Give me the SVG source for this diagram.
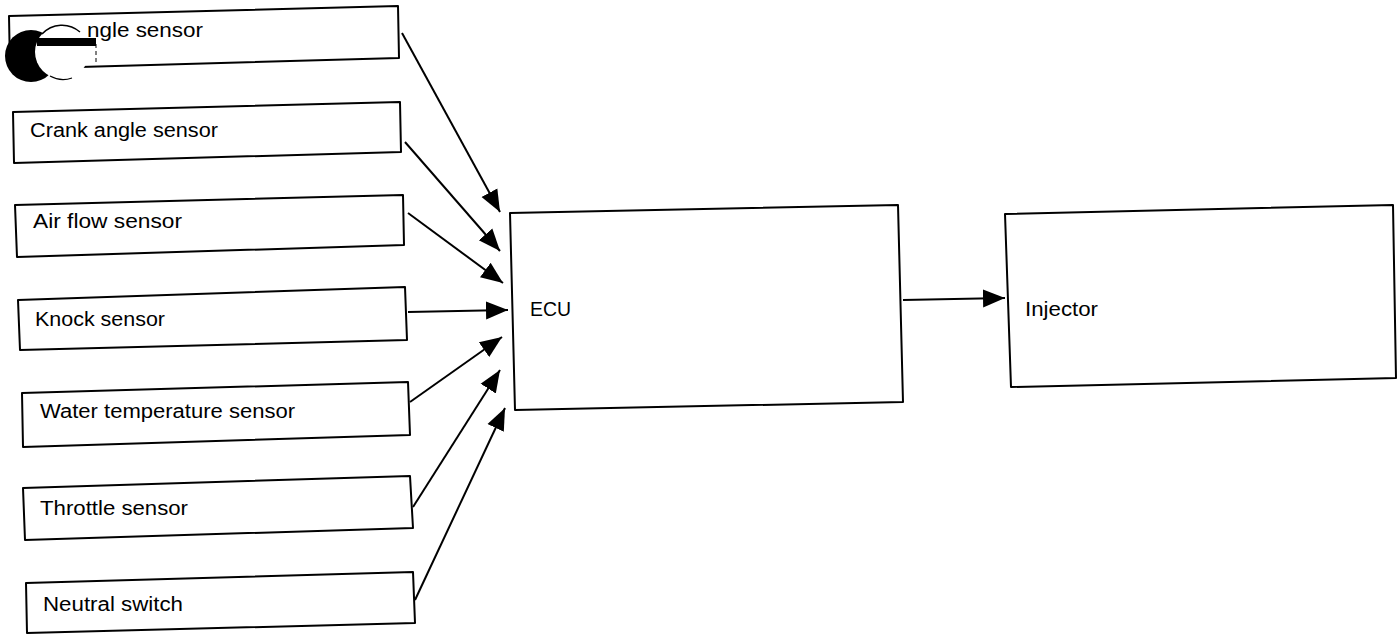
<svg xmlns="http://www.w3.org/2000/svg" width="1397" height="634" viewBox="0 0 1397 634">
<style>
  .box { fill: #fff; stroke: #000; stroke-width: 2; stroke-linejoin: round; }
  .lbl { font-family: "Liberation Sans", Arial, sans-serif; font-size: 20px; fill: #000; }
  .conn { stroke: #000; stroke-width: 2; fill: none; marker-end: url(#arr); }
</style>
<defs>
  <marker id="arr" markerUnits="userSpaceOnUse" markerWidth="24" markerHeight="20" refX="22" refY="9" orient="auto" viewBox="0 0 24 18">
    <path d="M0,0 L22,9 L0,18 Z" fill="#000"/>
  </marker>
</defs>
<rect width="1397" height="634" fill="#fff"/>

<g id="connectors">
  <line class="conn" x1="402" y1="33" x2="500" y2="212"/>
  <line class="conn" x1="405" y1="142" x2="500" y2="251"/>
  <line class="conn" x1="408" y1="213" x2="503" y2="283"/>
  <line class="conn" x1="408" y1="312" x2="508" y2="310"/>
  <line class="conn" x1="410" y1="402" x2="502" y2="337"/>
  <line class="conn" x1="413" y1="507" x2="500" y2="370"/>
  <line class="conn" x1="415" y1="600" x2="505" y2="408"/>
  <line class="conn" x1="903" y1="300" x2="1005" y2="298"/>
</g>

<g id="node-angle-sensor">
  <polygon class="box" points="9,16 398,6 399,58 10,69"/>
  <text class="lbl" x="87" y="37" textLength="116" lengthAdjust="spacingAndGlyphs">ngle sensor</text>
</g>
<g id="node-crank">
  <polygon class="box" points="13,112 400,102 401,152 14,163"/>
  <text class="lbl" x="30" y="137" textLength="188" lengthAdjust="spacingAndGlyphs">Crank angle sensor</text>
</g>
<g id="node-airflow">
  <polygon class="box" points="15,205 403,195 404,245 17,257"/>
  <text class="lbl" x="33" y="228" textLength="149" lengthAdjust="spacingAndGlyphs">Air flow sensor</text>
</g>
<g id="node-knock">
  <polygon class="box" points="18,300 405,287 407,340 20,350"/>
  <text class="lbl" x="35" y="326" textLength="130" lengthAdjust="spacingAndGlyphs">Knock sensor</text>
</g>
<g id="node-water">
  <polygon class="box" points="22,393 408,382 410,435 23,447"/>
  <text class="lbl" x="40" y="418" textLength="255" lengthAdjust="spacingAndGlyphs">Water temperature sensor</text>
</g>
<g id="node-throttle">
  <polygon class="box" points="23,488 410,476 413,528 25,540"/>
  <text class="lbl" x="40" y="515" textLength="148" lengthAdjust="spacingAndGlyphs">Throttle sensor</text>
</g>
<g id="node-neutral">
  <polygon class="box" points="26,583 413,572 415,623 27,633"/>
  <text class="lbl" x="43" y="611" textLength="140" lengthAdjust="spacingAndGlyphs">Neutral switch</text>
</g>
<g id="node-ecu">
  <polygon class="box" points="510,213 898,205 903,402 515,410"/>
  <text class="lbl" x="530" y="316" textLength="41" lengthAdjust="spacingAndGlyphs">ECU</text>
</g>
<g id="node-injector">
  <polygon class="box" points="1005,214 1393,205 1396,378 1011,387"/>
  <text class="lbl" x="1025" y="316" textLength="73" lengthAdjust="spacingAndGlyphs">Injector</text>
</g>

<g id="scan-mark">
  <circle cx="31" cy="56" r="26" fill="#000"/>
  <circle cx="62" cy="52" r="27" fill="#fff"/>
  <path d="M42,34 A27,27 0 0 1 80,32" fill="none" stroke="#000" stroke-width="1.5"/>
  <path d="M50,76 A27,27 0 0 0 72,78" fill="none" stroke="#000" stroke-width="1.2"/>
  <line x1="96" y1="44" x2="96" y2="63" stroke="#000" stroke-width="1" stroke-dasharray="4,3"/>
  <rect x="37" y="38" width="59" height="8" fill="#000"/>
</g>
</svg>
